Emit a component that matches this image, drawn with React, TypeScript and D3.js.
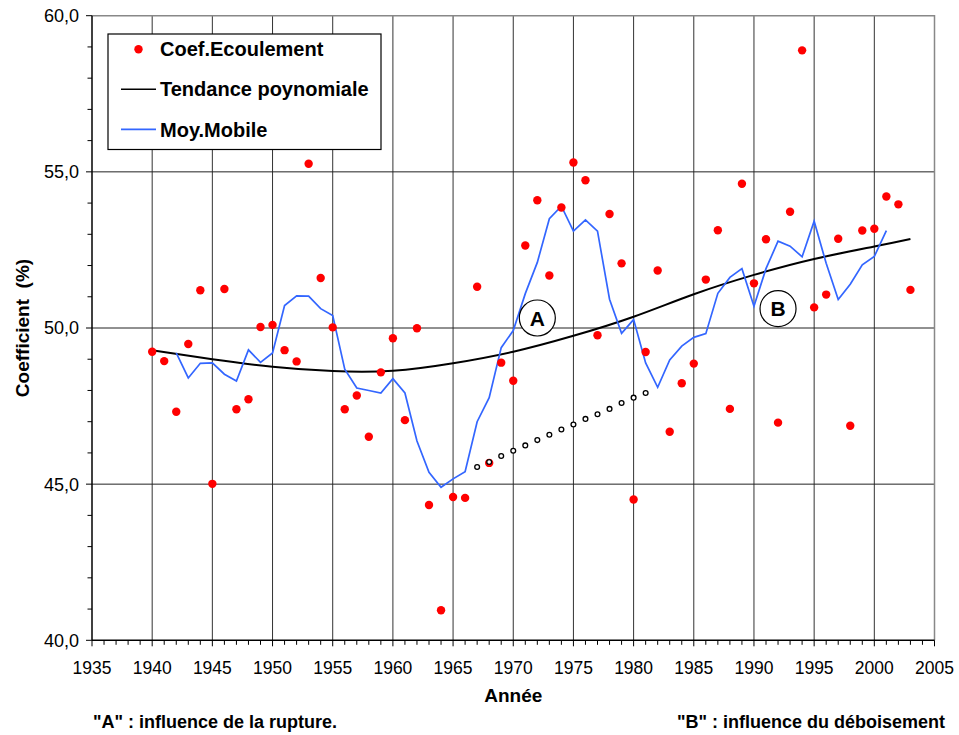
import * as d3 from "d3";
import { useCallback } from "react";

// Coefficient d'écoulement annuel (%)
const years = d3.range(1940, 2004);
const coefValues = [
  49.24, 48.94, 47.32, 49.49, 51.21, 45.01, 51.25, 47.4, 47.72, 50.03,
  50.1, 49.29, 48.93, 55.26, 51.6, 50.02, 47.4, 47.84, 46.52, 48.58,
  49.67, 47.05, 49.99, 44.33, 40.96, 44.59, 44.56, 51.32, 45.68, 48.89,
  48.31, 52.64, 54.09, 51.68, 53.86, 55.3, 54.73, 49.77, 53.65, 52.07,
  44.51, 49.23, 51.84, 46.68, 48.23, 48.86, 51.55, 53.13, 47.41, 54.62,
  51.43, 52.84, 46.97, 53.72, 58.89, 50.66, 51.07, 52.86, 46.87, 53.12,
  53.18, 54.21, 53.96, 51.22,
];

// moyenne mobile (1942 - 2001)
const mobileYears = d3.range(1942, 2002);
const mobileValues = [
  49.2, 48.4, 48.87, 48.88, 48.52, 48.3, 49.3, 48.9, 49.2, 50.72,
  51.03, 51.02, 50.62, 50.4, 48.68, 48.08, 48.0, 47.92, 48.38, 47.92,
  46.38, 45.38, 44.9, 45.17, 45.4, 47.0, 47.77, 49.37, 49.92, 51.1,
  52.1, 53.5, 53.9, 53.1, 53.46, 53.1, 50.92, 49.83, 50.27, 48.88,
  48.1, 48.98, 49.42, 49.7, 49.82, 51.11, 51.62, 51.9, 50.7, 51.9,
  52.78, 52.62, 52.28, 53.42, 52.07, 50.91, 51.4, 52.02, 52.29, 53.12,
];

// tendance polynomiale
const trendYears = [1940, 1945, 1950, 1955, 1960, 1965, 1970, 1975, 1980, 1985, 1990, 1995, 2000, 2003];
const trendValues = [49.29, 49.0, 48.76, 48.62, 48.63, 48.87, 49.24, 49.75, 50.36, 51.08, 51.7, 52.21, 52.61, 52.85];

// pointillés (1967 - 1981)
const dottedYears = d3.range(1967, 1982);
const dottedValues = [
  45.55, 45.71, 45.9, 46.07, 46.24, 46.41, 46.58, 46.75, 46.91, 47.09,
  47.24, 47.41, 47.6, 47.77, 47.92,
];

const xTicks = d3.range(1935, 2006, 5);
const yTicks = [40, 45, 50, 55, 60];

const FONT = "'Liberation Sans', Arial, sans-serif";
const RED = "#ff0000";
const BLUE = "#3366ff";

export default function App() {
  const renderChart = useCallback((chartRef: HTMLDivElement | null) => {
    if (!chartRef) return;
    const width = 959;
    const height = 735;
    const left = 92;
    const right = 934.5;
    const top = 15.7;
    const bottom = 640.3;

    const svg = d3
      .select(chartRef)
      .append("svg")
      .attr("width", width)
      .attr("height", height)
      .style("display", "block")
      .style("font-family", FONT);

    svg.append("rect").attr("width", width).attr("height", height).attr("fill", "#fff");

    const x = d3.scaleLinear().domain([1935, 2005]).range([left, right]);
    const y = d3.scaleLinear().domain([40, 60]).range([bottom, top]);
    const fmt = (v: number) => d3.format(".1f")(v).replace(".", ",");

    // grid
    svg
      .selectAll("line.vgrid")
      .data(xTicks.filter((t) => t > 1935 && t < 2005))
      .enter()
      .append("line")
      .attr("x1", (d) => x(d))
      .attr("x2", (d) => x(d))
      .attr("y1", top)
      .attr("y2", bottom)
      .attr("stroke", "#333")
      .attr("stroke-width", 1);

    svg
      .selectAll("line.hgrid")
      .data(yTicks.filter((t) => t > 40 && t < 60))
      .enter()
      .append("line")
      .attr("x1", left)
      .attr("x2", right)
      .attr("y1", (d) => y(d))
      .attr("y2", (d) => y(d))
      .attr("stroke", "#222")
      .attr("stroke-width", 1);

    // frame
    svg
      .append("path")
      .attr("d", `M${left},${top}H${right}V${bottom}`)
      .attr("fill", "none")
      .attr("stroke", "#888")
      .attr("stroke-width", 1.5);

    // axes
    svg
      .append("line")
      .attr("x1", left)
      .attr("x2", left)
      .attr("y1", top)
      .attr("y2", bottom)
      .attr("stroke", "#000")
      .attr("stroke-width", 1.5);
    svg
      .append("line")
      .attr("x1", left)
      .attr("x2", right)
      .attr("y1", bottom)
      .attr("y2", bottom)
      .attr("stroke", "#000")
      .attr("stroke-width", 1.5);

    // y ticks (major + minor, outside)
    svg
      .selectAll("line.ytick")
      .data(d3.range(40, 61, 1))
      .enter()
      .append("line")
      .attr("x1", (d) => (d % 5 === 0 ? left - 6 : left - 4.5))
      .attr("x2", left)
      .attr("y1", (d) => y(d))
      .attr("y2", (d) => y(d))
      .attr("stroke", "#000")
      .attr("stroke-width", 1);

    svg
      .selectAll("text.ylab")
      .data(yTicks)
      .enter()
      .append("text")
      .attr("x", left - 13)
      .attr("y", (d) => y(d))
      .attr("dy", "0.36em")
      .attr("text-anchor", "end")
      .attr("font-size", 18)
      .attr("fill", "#000")
      .text((d) => fmt(d));

    // x ticks (every year, outside)
    svg
      .selectAll("line.xtick")
      .data(d3.range(1935, 2006, 1))
      .enter()
      .append("line")
      .attr("x1", (d) => x(d))
      .attr("x2", (d) => x(d))
      .attr("y1", bottom)
      .attr("y2", (d) => (d % 5 === 0 ? bottom + 6 : bottom + 4.5))
      .attr("stroke", "#000")
      .attr("stroke-width", 1);

    svg
      .selectAll("text.xlab")
      .data(xTicks)
      .enter()
      .append("text")
      .attr("x", (d) => x(d))
      .attr("y", 674)
      .attr("text-anchor", "middle")
      .attr("font-size", 17.5)
      .attr("fill", "#000")
      .text((d) => d);

    // axis titles
    svg
      .append("text")
      .attr("x", (left + right) / 2)
      .attr("y", 702)
      .attr("text-anchor", "middle")
      .attr("font-size", 19)
      .attr("font-weight", "bold")
      .text("Année");

    svg
      .append("text")
      .attr("transform", `translate(29,${(top + bottom) / 2}) rotate(-90)`)
      .attr("text-anchor", "middle")
      .attr("font-size", 19)
      .attr("font-weight", "bold")
      .attr("xml:space", "preserve")
      .style("white-space", "pre")
      .text("Coefficient  (%)");

    // footnotes
    svg
      .append("text")
      .attr("x", 93)
      .attr("y", 728)
      .attr("font-size", 18)
      .attr("font-weight", "bold")
      .text('"A" : influence de la rupture.');
    svg
      .append("text")
      .attr("x", 945)
      .attr("y", 728)
      .attr("text-anchor", "end")
      .attr("font-size", 18)
      .attr("font-weight", "bold")
      .text('"B" : influence du déboisement');

    // trend
    const trend = d3
      .line<number>()
      .x((_, i) => x(trendYears[i]))
      .y((d) => y(d))
      .curve(d3.curveNatural);
    svg
      .append("path")
      .datum(trendValues)
      .attr("fill", "none")
      .attr("stroke", "#000")
      .attr("stroke-width", 2)
      .attr("d", trend);

    // moving average
    const mobile = d3
      .line<number>()
      .x((_, i) => x(mobileYears[i]))
      .y((d) => y(d));
    svg
      .append("path")
      .datum(mobileValues)
      .attr("fill", "none")
      .attr("stroke", BLUE)
      .attr("stroke-width", 1.7)
      .attr("d", mobile);

    // coefficient points
    svg
      .selectAll("circle.coef")
      .data(coefValues)
      .enter()
      .append("circle")
      .attr("cx", (_, i) => x(years[i]))
      .attr("cy", (d) => y(d))
      .attr("r", 4.2)
      .attr("fill", RED);

    // dotted reference
    svg
      .selectAll("circle.dot")
      .data(dottedValues)
      .enter()
      .append("circle")
      .attr("cx", (_, i) => x(dottedYears[i]))
      .attr("cy", (d) => y(d))
      .attr("r", 2.4)
      .attr("fill", "#fff")
      .attr("stroke", "#000")
      .attr("stroke-width", 1.3);

    // annotations A / B
    const marks = [
      { label: "A", year: 1972, value: 50.32 },
      { label: "B", year: 1992, value: 50.62 },
    ];
    const mg = svg
      .selectAll("g.mark")
      .data(marks)
      .enter()
      .append("g")
      .attr("transform", (d) => `translate(${x(d.year)},${y(d.value)})`);
    mg.append("circle").attr("r", 18).attr("fill", "#fff").attr("stroke", "#000").attr("stroke-width", 1.2);
    mg.append("text")
      .attr("text-anchor", "middle")
      .attr("dy", "0.36em")
      .attr("font-size", 21)
      .attr("font-weight", "bold")
      .text((d) => d.label);

    // legend
    const lg = svg.append("g");
    lg.append("rect")
      .attr("x", 108)
      .attr("y", 34)
      .attr("width", 273)
      .attr("height", 115.5)
      .attr("fill", "#fff")
      .attr("stroke", "#000")
      .attr("stroke-width", 1.2);
    lg.append("circle").attr("cx", 138.5).attr("cy", 49.3).attr("r", 4.2).attr("fill", RED);
    lg.append("line")
      .attr("x1", 121)
      .attr("x2", 156)
      .attr("y1", 89.3)
      .attr("y2", 89.3)
      .attr("stroke", "#000")
      .attr("stroke-width", 1.5);
    lg.append("line")
      .attr("x1", 121)
      .attr("x2", 156)
      .attr("y1", 129.3)
      .attr("y2", 129.3)
      .attr("stroke", BLUE)
      .attr("stroke-width", 1.7);
    const legendLabels = ["Coef.Ecoulement", "Tendance poynomiale", "Moy.Mobile"];
    const legendBase = [55.5, 96, 136.5];
    lg.selectAll("text")
      .data(legendLabels)
      .enter()
      .append("text")
      .attr("x", 160)
      .attr("y", (_, i) => legendBase[i])
      .attr("font-size", 20)
      .attr("font-weight", "bold")
      .text((d) => d);

    return () => {
      svg.remove();
    };
  }, []);

  return (
    <div style={{ position: "absolute", left: 0, top: 0 }}>
      <div ref={renderChart}></div>
    </div>
  );
}
